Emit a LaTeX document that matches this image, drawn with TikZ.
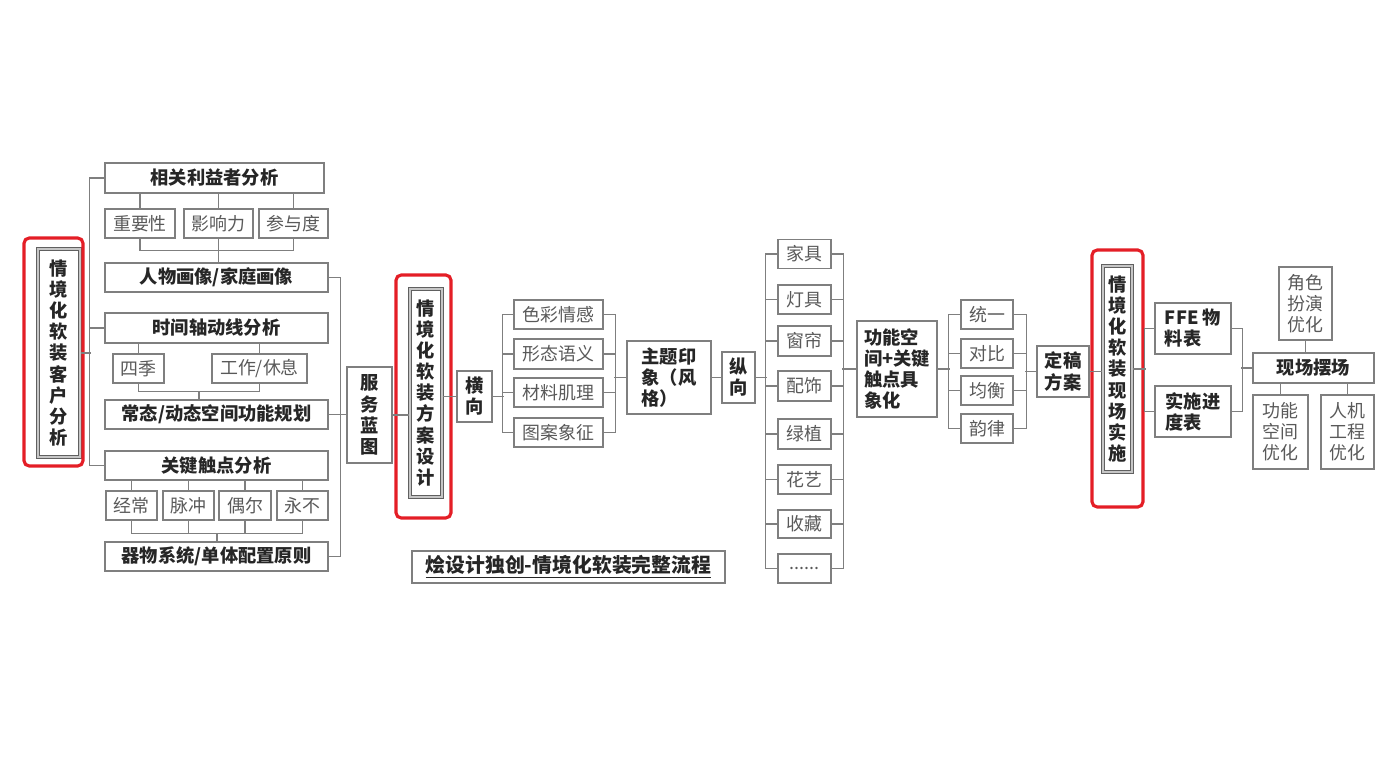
\documentclass[tikz,border=0pt]{standalone}
\usepackage{fontspec}
\setmainfont{Noto Sans CJK SC}
\usepackage{tikz}
\usetikzlibrary{calc}

\definecolor{boxgray}{HTML}{7F7F7F}
\definecolor{txtgray}{HTML}{595959}
\definecolor{txtdark}{HTML}{262626}
\definecolor{framered}{HTML}{E41E26}

\begin{document}
\begin{tikzpicture}[x=0.02cm, y=-0.02cm, sz/.style 2 args={minimum width=#1*0.02cm, minimum height=#2*0.02cm}]
    % Styles
    \tikzstyle{cell} = [rectangle, draw=boxgray, line width=0.8pt, inner sep=0pt, text=txtgray, align=center, font=\fontsize{10.2pt}{12pt}\selectfont]
    \tikzstyle{head} = [cell, text=txtdark, font=\fontsize{10.4pt}{12pt}\selectfont\bfseries]
    \tikzstyle{stage} = [head, draw=gray!75!black, line width=0.6pt, double=gray!45, double distance=0.7pt]
    \tikzstyle{frame} = [rectangle, draw=framered, line width=1.8pt, rounded corners=3pt]
    \tikzstyle{link} = [draw=boxgray, line width=0.8pt]

    \useasboundingbox (0,0) rectangle (1400,773);

    % Client analysis
    \node [stage, sz={42}{208}] (clientin) at (59,353) {情\\境\\化\\软\\装\\客\\户\\分\\析};
    \node [frame, sz={59}{228}] (clientfr) at (53.5,352) {};

    \node [head, sz={219}{30}] (stake) at (214.5,178) {相关利益者分析};
    \node [cell, sz={70}{29}] (weight) at (140,223.5) {重要性};
    \node [cell, sz={69}{29}] (sway) at (218.5,223.5) {影响力};
    \node [cell, sz={69}{29}] (share) at (293.5,223.5) {参与度};
    \node [head, sz={223}{29}] (persona) at (216.5,277.5) {人物画像/家庭画像};
    \node [head, sz={223}{30}] (timeline) at (216.5,328) {时间轴动线分析};
    \node [cell, sz={51}{29}] (season) at (138.5,368.5) {四季};
    \node [cell, sz={95}{29}] (workrest) at (259.5,368.5) {工作/休息};
    \node [head, sz={223}{29}] (routine) at (216.5,414.5) {常态/动态空间功能规划};
    \node [head, sz={223}{29}] (touch) at (216.5,465.5) {关键触点分析};
    \node [cell, sz={51}{29}] (often) at (131.5,505.5) {经常};
    \node [cell, sz={51}{29}] (pulse) at (188.5,505.5) {脉冲};
    \node [cell, sz={52}{29}] (seldom) at (245,505.5) {偶尔};
    \node [cell, sz={51}{29}] (never) at (302.5,505.5) {永不};
    \node [head, sz={223}{29}] (device) at (216.5,556.5) {器物系统/单体配置原则};

    \node [head, sz={45}{96}] (blueprint) at (369.5,415) {服\\务\\蓝\\图};

    % Design scheme
    \node [stage, sz={32}{208}] (designin) at (426,393) {情\\境\\化\\软\\装\\方\\案\\设\\计};
    \node [frame, sz={55}{243}] (designfr) at (423.5,396.5) {};

    \node [head, sz={35}{51}] (across) at (474.5,396.5) {横\\向};
    \node [cell, sz={89}{29}] (hue) at (558.5,314.5) {色彩情感};
    \node [cell, sz={89}{30}] (form) at (558.5,354) {形态语义};
    \node [cell, sz={89}{29}] (texture) at (558.5,392.5) {材料肌理};
    \node [cell, sz={89}{29}] (motif) at (558.5,432.5) {图案象征};
    \node [head, sz={84}{73}, align=left] (theme) at (669,377.5) {主题印\\象（风\\格）};

    \node [head, sz={33}{51}] (down) at (738.5,377.5) {纵\\向};
    \node [cell, sz={53}{29}] (furniture) at (804.5,254) {家具};
    \node [cell, sz={53}{29}] (lamp) at (804.5,299.5) {灯具};
    \node [cell, sz={53}{30}] (curtain) at (804.5,341) {窗帘};
    \node [cell, sz={53}{30}] (decor) at (804.5,386) {配饰};
    \node [cell, sz={53}{30}] (plant) at (804.5,434) {绿植};
    \node [cell, sz={53}{29}] (flower) at (804.5,479.5) {花艺};
    \node [cell, sz={53}{28}] (collect) at (804.5,524) {收藏};
    \node [cell, sz={53}{29}] (more) at (804.5,568.5) {......};
    \node [head, sz={80}{96}, align=left] (func) at (897,369) {功能空\\间+关键\\触点具\\象化};

    \node [cell, sz={52}{29}] (unity) at (987,314.5) {统一};
    \node [cell, sz={52}{29}] (contrast) at (987,353.5) {对比};
    \node [cell, sz={52}{29}] (balance) at (987,390.5) {均衡};
    \node [cell, sz={52}{29}] (rhythm) at (987,428.5) {韵律};
    \node [head, sz={52}{51}] (final) at (1063,371.5) {定稿\\方案};

    % On-site implementation
    \node [stage, sz={29}{206}] (sitein) at (1117.5,369) {情\\境\\化\\软\\装\\现\\场\\实\\施};
    \node [frame, sz={51}{257}] (sitefr) at (1117.5,378.5) {};

    \node [head, sz={76}{51}, align=left] (ffe) at (1193,328.5) {FFE 物\\料表};
    \node [head, sz={76}{51}, align=left] (sched) at (1193,411.5) {实施进\\度表};
    \node [head, sz={121}{30}] (staging) at (1313.5,368) {现场摆场};
    \node [cell, sz={53}{73}] (role) at (1305.5,303.5) {角色\\扮演\\优化};
    \node [cell, sz={55}{74}] (spaceopt) at (1280.5,432) {功能\\空间\\优化};
    \node [cell, sz={53}{74}] (ergo) at (1347.5,432) {人机\\工程\\优化};

    \node [head, sz={313}{32}, font=\fontsize{11.3pt}{13pt}\selectfont\bfseries] (title) at (568.5,567) {\underline{烩设计独创-情境化软装完整流程}};

    % Connections: client analysis
    \draw [link] (clientin.east) -- ++(10,0);
    \draw [link] (stake.west) -- ++(-15,0) |- (touch.west);
    \draw [link] (timeline.west) -- ++(-15,0);

    \draw [link] (weight.north) -- (weight.north |- stake.south);
    \draw [link] (sway.north) -- (sway.north |- stake.south);
    \draw [link] (share.north) -- (share.north |- stake.south);
    \draw [link] (weight.south) -- ++(0,12) -| (share.south);
    \draw [link] (sway.south) -- (sway.south |- persona.north);

    \draw [link] (season.north) -- (season.north |- timeline.south);
    \draw [link] (workrest.north) -- (workrest.north |- timeline.south);
    \draw [link] (season.south) -- ++(0,8) -| (workrest.south);
    \coordinate (joinb) at ($(season.south)!0.5!(workrest.south)+(0,8)$);
    \draw [link] (joinb) -- (joinb |- routine.north);

    \draw [link] (often.north) -- (often.north |- touch.south);
    \draw [link] (pulse.north) -- (pulse.north |- touch.south);
    \draw [link] (seldom.north) -- (seldom.north |- touch.south);
    \draw [link] (never.north) -- (never.north |- touch.south);
    \draw [link] (often.south) -- ++(0,13) -| (never.south);
    \draw [link] (pulse.south) -- ++(0,13);
    \draw [link] (seldom.south) -- ++(0,13);
    \coordinate (joinc) at ($(often.south)!0.5!(never.south)+(0,13)$);
    \draw [link] (joinc) -- (joinc |- device.north);

    \draw [link] (persona.east) -- ++(12,0) |- (device.east);
    \draw [link] (routine.east) -- (routine.east -| blueprint.west);
    \draw [link] (blueprint.east) -- (blueprint.east -| designin.west);

    % Connections: design scheme
    \draw [link] (across.west) -- (across.west -| designin.east);
    \draw [link] (across.east) -- ++(11,0);
    \draw [link] (hue.west) -- ++(-11,0) |- (motif.west);
    \draw [link] (form.west) -- ++(-11,0);
    \draw [link] (texture.west) -- ++(-11,0);
    \draw [link] (hue.east) -- ++(12,0) |- (motif.east);
    \draw [link] (form.east) -- ++(12,0);
    \draw [link] (texture.east) -- ++(12,0);
    \draw [link] (theme.west) -- ++(-12,0);
    \draw [link] (theme.east) -- (theme.east -| down.west);

    \draw [link] (down.east) -- ++(11,0);
    \draw [link] (furniture.west) -- ++(-12,0) |- (more.west);
    \draw [link] (lamp.west) -- ++(-12,0);
    \draw [link] (curtain.west) -- ++(-12,0);
    \draw [link] (decor.west) -- ++(-12,0);
    \draw [link] (plant.west) -- ++(-12,0);
    \draw [link] (flower.west) -- ++(-12,0);
    \draw [link] (collect.west) -- ++(-12,0);
    \draw [link] (furniture.east) -- ++(12,0) |- (more.east);
    \draw [link] (lamp.east) -- ++(12,0);
    \draw [link] (curtain.east) -- ++(12,0);
    \draw [link] (decor.east) -- ++(12,0);
    \draw [link] (plant.east) -- ++(12,0);
    \draw [link] (flower.east) -- ++(12,0);
    \draw [link] (collect.east) -- ++(12,0);
    \draw [link] (func.west) -- ++(-14,0);

    \draw [link] (func.east) -- ++(12,0);
    \draw [link] (unity.west) -- ++(-12,0) |- (rhythm.west);
    \draw [link] (contrast.west) -- ++(-12,0);
    \draw [link] (balance.west) -- ++(-12,0);
    \draw [link] (unity.east) -- ++(13,0) |- (rhythm.east);
    \draw [link] (contrast.east) -- ++(13,0);
    \draw [link] (balance.east) -- ++(13,0);
    \draw [link] (final.west) -- ++(-11,0);
    \draw [link] (final.east) -- (final.east -| sitein.west);

    % Connections: on-site implementation
    \draw [link] (sitein.east) -- ++(13,0);
    \draw [link] (ffe.west) -- ++(-10,0) |- (sched.west);
    \draw [link] (ffe.east) -- ++(11,0) |- (sched.east);
    \draw [link] (staging.west) -- ++(-11,0);
    \draw [link] (role.south) -- (role.south |- staging.north);
    \draw [link] (spaceopt.north) -- (spaceopt.north |- staging.south);
    \draw [link] (ergo.north) -- (ergo.north |- staging.south);

\end{tikzpicture}
\end{document}
